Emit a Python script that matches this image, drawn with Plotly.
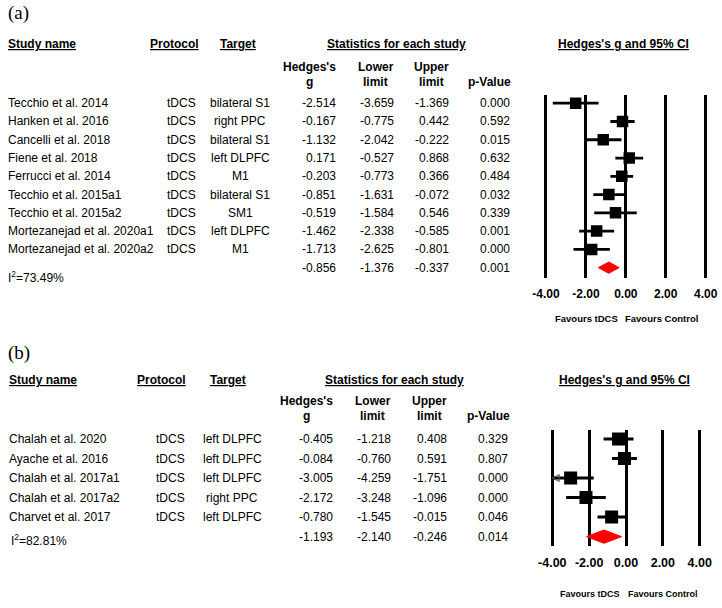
import plotly.graph_objects as go

# ---------------- data: panel (a) ----------------
studies_a = ["Tecchio et al. 2014", "Hanken et al. 2016", "Cancelli et al. 2018",
             "Fiene et al. 2018", "Ferrucci et al. 2014", "Tecchio et al. 2015a1",
             "Tecchio et al. 2015a2", "Mortezanejad et al. 2020a1", "Mortezanejad et al. 2020a2"]
protocol_a = ["tDCS"] * 9
target_a = ["bilateral S1", "right PPC", "bilateral S1", "left DLPFC", "M1",
            "bilateral S1", "SM1", "left DLPFC", "M1"]
g_a = [-2.514, -0.167, -1.132, 0.171, -0.203, -0.851, -0.519, -1.462, -1.713]
lo_a = [-3.659, -0.775, -2.042, -0.527, -0.773, -1.631, -1.584, -2.338, -2.625]
hi_a = [-1.369, 0.442, -0.222, 0.868, 0.366, -0.072, 0.546, -0.585, -0.801]
p_a = ["0.000", "0.592", "0.015", "0.632", "0.484", "0.032", "0.339", "0.001", "0.000"]
sum_g_a, sum_lo_a, sum_hi_a, sum_p_a = -0.856, -1.376, -0.337, "0.001"
i2_a = "73.49%"

# ---------------- data: panel (b) ----------------
studies_b = ["Chalah et al. 2020", "Ayache et al. 2016", "Chalah et al. 2017a1",
             "Chalah et al. 2017a2", "Charvet et al. 2017"]
protocol_b = ["tDCS"] * 5
target_b = ["left DLPFC", "left DLPFC", "left DLPFC", "right PPC", "left DLPFC"]
g_b = [-0.405, -0.084, -3.005, -2.172, -0.780]
lo_b = [-1.218, -0.760, -4.259, -3.248, -1.545]
hi_b = [0.408, 0.591, -1.751, -1.096, -0.015]
p_b = ["0.329", "0.807", "0.000", "0.000", "0.046"]
sum_g_b, sum_lo_b, sum_hi_b, sum_p_b = -1.193, -2.140, -0.246, "0.014"
i2_b = "82.81%"

tick_vals = [-4, -2, 0, 2, 4]
tick_labels = ["-4.00", "-2.00", "0.00", "2.00", "4.00"]

W, H = 722, 608
FONT = "Liberation Sans, Arial, sans-serif"
AX_MIN, AX_MAX = -4.0, 4.0


def px(x):
    return x / W


def py(y):
    return 1 - y / H


fig = go.Figure()
ann = []


def text(t, x, y, yref="paper", anchor="left", size=12, bold=False, underline=False,
         family=FONT):
    s = t
    if underline:
        s = "<u>" + s + "</u>"
    if bold:
        s = "<b>" + s + "</b>"
    ann.append(dict(text=s, x=px(x), xref="paper",
                    y=(py(y) if yref == "paper" else y), yref=yref,
                    xanchor=anchor, yanchor="middle", showarrow=False,
                    font=dict(family=family, size=size, color="#000"),
                    borderpad=0, align="center"))


def panel(xa, ya, studies, protos, targets, g, lo, hi, pv, sg, slo, shi, sp, i2,
          cols, head_y, label, label_y, sq, ci_w, dia_h, i2_y, fav_y, fav_x, fav_size):
    n = len(studies)
    xs, ys, arx, ary = [], [], [], []
    for i in range(n):
        l = max(lo[i], AX_MIN)
        h = min(hi[i], AX_MAX)
        xs += [l, h, None]
        ys += [i, i, None]
        if lo[i] < AX_MIN:
            arx.append(AX_MIN)
            ary.append(i)
    fig.add_trace(go.Scatter(x=xs, y=ys, mode="lines", xaxis=xa, yaxis=ya,
                             line=dict(color="black", width=ci_w), hoverinfo="skip",
                             showlegend=False))
    if arx:
        fig.add_trace(go.Scatter(x=arx, y=ary, mode="markers", xaxis=xa, yaxis=ya,
                                 marker=dict(symbol="arrow-left-open", size=7,
                                             color="#555", line=dict(width=1, color="#555")),
                                 showlegend=False, hoverinfo="skip", cliponaxis=False))
    fig.add_trace(go.Scatter(x=g, y=list(range(n)), mode="markers", xaxis=xa, yaxis=ya,
                             marker=dict(symbol="square", size=sq, color="black"),
                             showlegend=False, hoverinfo="skip"))
    fig.add_trace(go.Scatter(x=[slo, sg, shi, sg, slo], y=[n, n - dia_h, n, n + dia_h, n],
                             mode="lines", fill="toself", fillcolor="red",
                             line=dict(color="red", width=1), xaxis=xa, yaxis=ya,
                             showlegend=False, hoverinfo="skip"))
    text(label, 7, label_y, size=19, family="Liberation Serif, Times New Roman, serif")
    hy, sy1, sy2 = head_y
    text("Study name", cols["name"], hy, bold=True, underline=True)
    text("Protocol", cols["proto_h"], hy, anchor="center", bold=True, underline=True)
    text("Target", cols["target_h"], hy, anchor="center", bold=True, underline=True)
    text("Statistics for each study", cols["stat_h"], hy, anchor="center", bold=True, underline=True)
    text("Hedges's g and 95% CI", cols["ci_h"], hy, anchor="center", bold=True, underline=True)
    text("Hedges's", cols["g_h"], sy1, anchor="center", bold=True)
    text("g", cols["g_h"], sy2, anchor="center", bold=True)
    text("Lower", cols["lo_h"], sy1, anchor="center", bold=True)
    text("limit", cols["lo_h"], sy2, anchor="center", bold=True)
    text("Upper", cols["hi_h"], sy1, anchor="center", bold=True)
    text("limit", cols["hi_h"], sy2, anchor="center", bold=True)
    text("p-Value", cols["p_h"], sy2, anchor="center", bold=True)
    yr = "y" if ya == "y" else "y2"
    for i in range(n):
        text(studies[i], cols["name"], i, yref=yr)
        text(protos[i], cols["proto"], i, yref=yr, anchor="right")
        text(targets[i], cols["target"], i, yref=yr, anchor="center")
        text(f"{g[i]:.3f}", cols["g"], i, yref=yr, anchor="right")
        text(f"{lo[i]:.3f}", cols["lo"], i, yref=yr, anchor="right")
        text(f"{hi[i]:.3f}", cols["hi"], i, yref=yr, anchor="right")
        text(pv[i], cols["p"], i, yref=yr, anchor="right")
    text(f"{sg:.3f}", cols["g"], n, yref=yr, anchor="right")
    text(f"{slo:.3f}", cols["lo"], n, yref=yr, anchor="right")
    text(f"{shi:.3f}", cols["hi"], n, yref=yr, anchor="right")
    text(sp, cols["p"], n, yref=yr, anchor="right")
    text("I<sup>2</sup>=" + i2, cols["i2"], i2_y, yref=yr)
    text("Favours tDCS", fav_x[0], fav_y, anchor="center", size=fav_size, bold=True)
    text("Favours Control", fav_x[1], fav_y, anchor="center", size=fav_size, bold=True)


cols_a = dict(name=7, proto_h=174.5, target_h=237.5, stat_h=396.5, ci_h=623.5,
              g_h=309.5, lo_h=375.7, hi_h=431.5, p_h=490,
              proto=197, target=240, g=337, lo=395, hi=450, p=511, i2=7)
cols_b = dict(name=8, proto_h=161, target_h=228, stat_h=394, ci_h=624,
              g_h=306, lo_h=373, hi_h=429, p_h=488,
              proto=186, target=232, g=334, lo=392, hi=448, p=509, i2=10)

panel("x", "y", studies_a, protocol_a, target_a, g_a, lo_a, hi_a, p_a,
      sum_g_a, sum_lo_a, sum_hi_a, sum_p_a, i2_a, cols_a, (44, 66.7, 81.7), "(a)", 13,
      sq=11.5, ci_w=2.8, dia_h=0.31, i2_y=9.5, fav_y=318.3, fav_x=(586.7, 661.5), fav_size=9.5)
panel("x2", "y2", studies_b, protocol_b, target_b, g_b, lo_b, hi_b, p_b,
      sum_g_b, sum_lo_b, sum_hi_b, sum_p_b, i2_b, cols_b, (380, 401, 416), "(b)", 353,
      sq=13, ci_w=3.0, dia_h=0.34, i2_y=5.15, fav_y=594, fav_x=(590, 662.5), fav_size=9)

xcommon = dict(range=[-4.2, 4.2], tickvals=tick_vals,
               ticktext=["<b>" + t + "</b>" for t in tick_labels],
               showgrid=True, gridcolor="black", gridwidth=2.6, zeroline=False,
               showline=False, ticks="", ticklabelstandoff=7, fixedrange=True,
               automargin=False)

fig.update_layout(
    width=W, height=H, autosize=False,
    margin=dict(l=0, r=0, t=0, b=0, pad=0),
    paper_bgcolor="white", plot_bgcolor="white",
    font=dict(family=FONT, color="#000"),
    xaxis=dict(domain=[px(542.0), px(709.7)], anchor="y",
               tickfont=dict(size=12, family=FONT, color="#000"), **xcommon),
    yaxis=dict(domain=[py(277.7), py(95)], range=[9.55, -0.45], visible=False,
               fixedrange=True, automargin=False),
    xaxis2=dict(domain=[px(548.6), px(703.4)], anchor="y2",
                tickfont=dict(size=12.5, family=FONT, color="#000"), **xcommon),
    yaxis2=dict(domain=[py(546), py(430)], range=[5.48, -0.46], visible=False,
                fixedrange=True, automargin=False),
    annotations=ann,
    showlegend=False,
)

fig.write_html("out.html", config={"displayModeBar": False},
               post_script="document.body.style.margin='0px';")
